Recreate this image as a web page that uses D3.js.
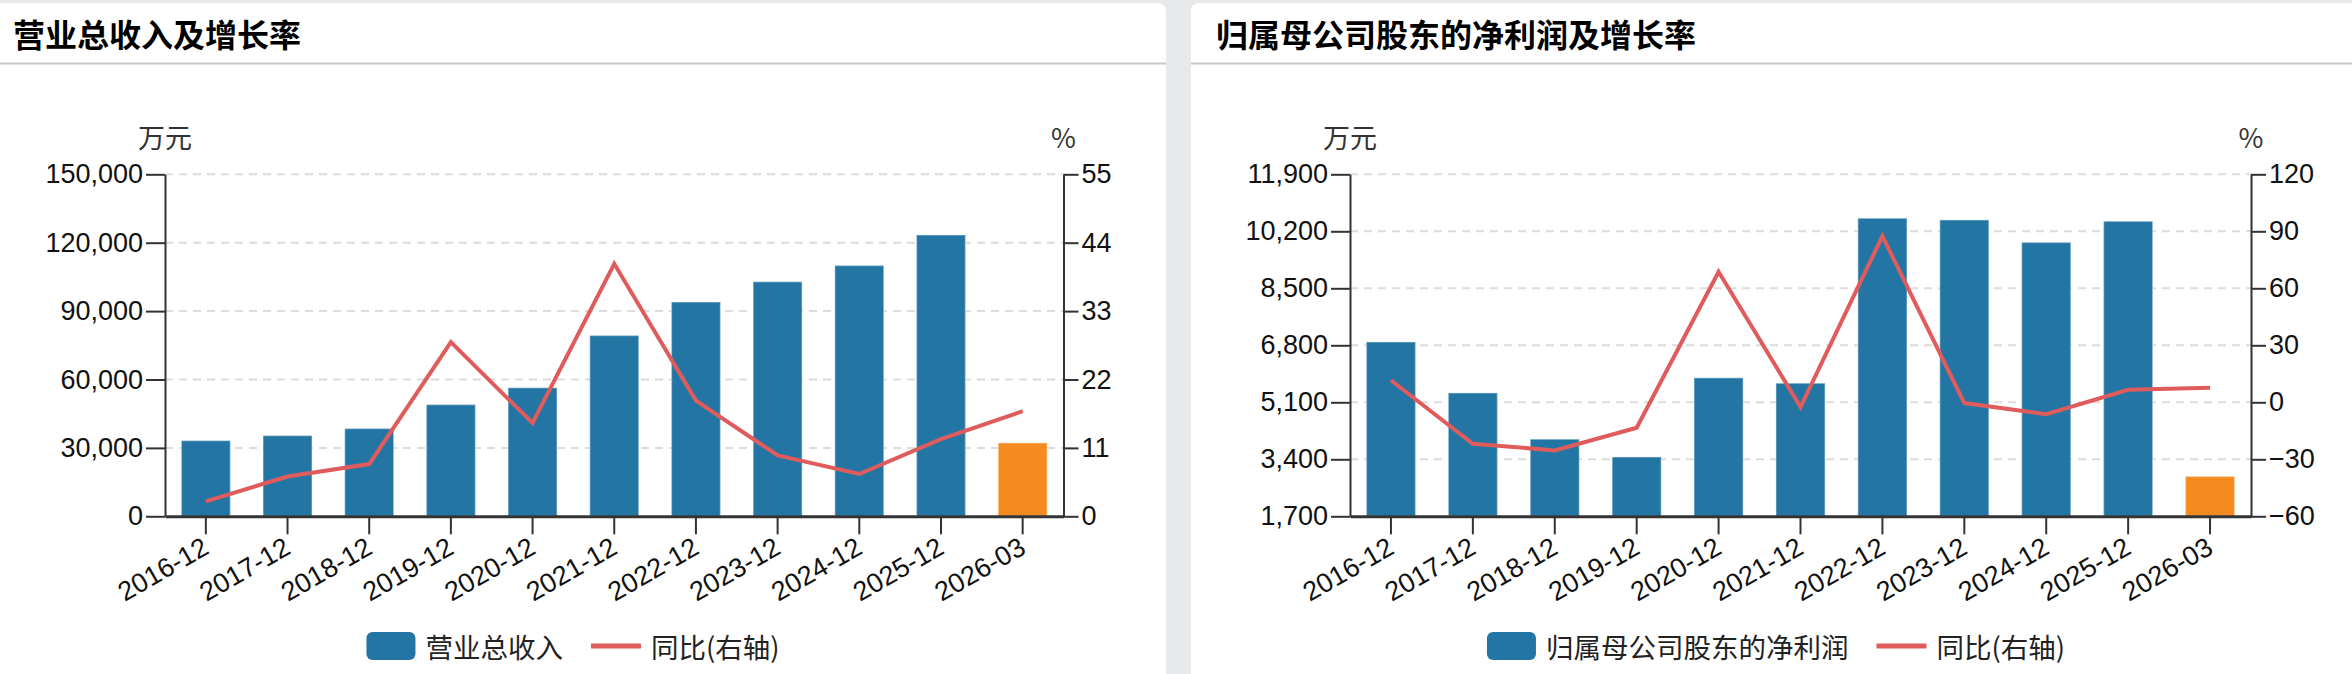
<!DOCTYPE html>
<html>
<head>
<meta charset="utf-8">
<script src="https://cdn.jsdelivr.net/npm/d3@7"></script>
<style>
  body { margin: 0; background: #e8e9eb; }
  svg { display: block; }
</style>
</head>
<body>
<svg id="svg" width="2352" height="674"></svg>
<script>
// data
var categories = ["2016-12", "2017-12", "2018-12", "2019-12", "2020-12", "2021-12", "2022-12", "2023-12", "2024-12", "2025-12", "2026-03"];

var revenue = [33200, 35400, 38500, 49000, 56400, 79300, 94000, 102900, 110000, 123400, 32200];
var revenueYoy = [2.4, 6.4, 8.4, 28.0, 15.0, 40.6, 18.6, 9.8, 6.8, 12.4, 16.9];
var revenueTicks = [0, 30000, 60000, 90000, 120000, 150000];
var revenueYoyTicks = [0, 11, 22, 33, 44, 55];

var profit = [6900, 5380, 4000, 3470, 5830, 5670, 10590, 10540, 9870, 10500, 2890];
var profitYoy = [11.6, -21.8, -25.3, -13.4, 68.7, -2.5, 87.5, -0.4, -6.3, 6.6, 7.7];
var profitTicks = [1700, 3400, 5100, 6800, 8500, 10200, 11900];
var profitYoyTicks = [-60, -30, 0, 30, 60, 90, 120];

var blue = "#2376a3";
var orange = "#f58a1e";
var red = "#e05c5c";
var numFont = "'Liberation Sans', Arial, sans-serif";
var cjkFont = "'Noto Sans CJK SC', sans-serif";

const svg = d3.select('#svg');

var plotTop = 174.3;
var plotBottom = 516.3;

var charts = [
  {title: "营业总收入及增长率", barName: "营业总收入", bars: revenue, yoy: revenueYoy,
   leftTicks: revenueTicks, rightTicks: revenueYoyTicks,
   cardX: -12, cardW: 1178, plotL: 165, plotR: 1063.5, legendCx: 573},
  {title: "归属母公司股东的净利润及增长率", barName: "归属母公司股东的净利润", bars: profit, yoy: profitYoy,
   leftTicks: profitTicks, rightTicks: profitYoyTicks,
   cardX: 1191, cardW: 1178, plotL: 1350, plotR: 2251, legendCx: 1776}
];

charts.forEach(drawChart);

function styleAxis(g, width) {
  g.select(".domain").attr("stroke", "#333").attr("stroke-width", width);
  g.selectAll(".tick line").attr("stroke", "#333").attr("stroke-width", 2);
  g.selectAll(".tick text")
    .style("font-family", numFont)
    .style("font-size", "27px")
    .attr("fill", "#111");
}

function drawChart(cfg) {
  var g = svg.append("g");

  // card + header
  g.append("rect")
    .attr("x", cfg.cardX).attr("y", 3)
    .attr("width", cfg.cardW).attr("height", 720)
    .attr("rx", 8)
    .attr("fill", "#fff");
  g.append("rect")
    .attr("x", cfg.cardX).attr("y", 62.5)
    .attr("width", cfg.cardW).attr("height", 2)
    .attr("fill", "#c8c8cc");
  g.append("text")
    .attr("x", cfg.cardX + 25)
    .attr("y", 33)
    .attr("dominant-baseline", "central")
    .style("font-family", cjkFont)
    .style("font-size", "32px")
    .style("font-weight", "bold")
    .attr("fill", "#000")
    .text(cfg.title);

  var x = d3.scaleBand().domain(categories).range([cfg.plotL, cfg.plotR]);
  var lt = cfg.leftTicks, rt = cfg.rightTicks;
  var yL = d3.scaleLinear().domain([lt[0], lt[lt.length - 1]]).range([plotBottom, plotTop]);
  var yR = d3.scaleLinear().domain([rt[0], rt[rt.length - 1]]).range([plotBottom, plotTop]);

  // dashed grid
  g.selectAll(".grid")
    .data(lt.slice(1))
    .join("line")
    .attr("x1", cfg.plotL).attr("x2", cfg.plotR)
    .attr("y1", d => yL(d)).attr("y2", d => yL(d))
    .attr("stroke", "#dcdcdc")
    .attr("stroke-width", 2)
    .attr("stroke-dasharray", "8,6");

  // bars
  var bw = x.bandwidth() * 0.6;
  g.selectAll(".bar")
    .data(cfg.bars)
    .join("rect")
    .attr("x", (d, i) => x(categories[i]) + (x.bandwidth() - bw) / 2)
    .attr("width", bw)
    .attr("y", d => yL(d))
    .attr("height", d => yL(lt[0]) - yL(d))
    .attr("fill", (d, i) => i === categories.length - 1 ? orange : blue)
    .attr("stroke", "rgba(255,255,255,0.35)")
    .attr("stroke-width", 1.5);

  // yoy line
  var line = d3.line()
    .x((d, i) => x(categories[i]) + x.bandwidth() / 2)
    .y(d => yR(d));
  g.append("path")
    .datum(cfg.yoy)
    .attr("d", line)
    .attr("fill", "none")
    .attr("stroke", red)
    .attr("stroke-width", 4);

  // axes
  var left = g.append("g")
    .attr("transform", "translate(" + cfg.plotL + ",0)")
    .call(d3.axisLeft(yL).tickValues(lt).tickFormat(d3.format(",")).tickSize(19).tickSizeOuter(0).tickPadding(3));
  styleAxis(left, 2);

  var right = g.append("g")
    .attr("transform", "translate(" + cfg.plotR + ",0)")
    .call(d3.axisRight(yR).tickValues(rt).tickSize(15).tickSizeOuter(0).tickPadding(3));
  styleAxis(right, 2);

  var bottom = g.append("g")
    .attr("transform", "translate(0," + plotBottom + ")")
    .call(d3.axisBottom(x).tickSize(18).tickSizeOuter(0));
  styleAxis(bottom, 3);
  bottom.selectAll(".tick text")
    .attr("y", null)
    .attr("dy", "0.35em")
    .attr("text-anchor", "end")
    .attr("transform", "translate(0,28) rotate(-30)");

  // units
  g.append("text")
    .attr("x", cfg.plotL).attr("y", 136)
    .attr("text-anchor", "middle")
    .attr("dominant-baseline", "central")
    .style("font-family", cjkFont).style("font-size", "27px")
    .attr("fill", "#333")
    .text("万元");
  g.append("text")
    .attr("x", cfg.plotR).attr("y", 136)
    .attr("text-anchor", "middle")
    .attr("dominant-baseline", "central")
    .style("font-family", cjkFont).style("font-size", "27px")
    .attr("fill", "#333")
    .text("%");

  // legend
  var lg = g.append("g");
  lg.append("rect")
    .attr("x", 0).attr("y", -14)
    .attr("width", 49).attr("height", 28)
    .attr("rx", 6)
    .attr("fill", blue);
  var t1 = lg.append("text")
    .attr("x", 59).attr("y", 0)
    .attr("dominant-baseline", "central")
    .style("font-family", cjkFont).style("font-size", "27.5px")
    .attr("fill", "#222")
    .text(cfg.barName);
  var lx = 59 + t1.node().getComputedTextLength() + 28;
  lg.append("line")
    .attr("x1", lx).attr("x2", lx + 50)
    .attr("y1", 0).attr("y2", 0)
    .attr("stroke", red)
    .attr("stroke-width", 5);
  var t2 = lg.append("text")
    .attr("x", lx + 60).attr("y", 0)
    .attr("dominant-baseline", "central")
    .style("font-family", cjkFont).style("font-size", "27.5px")
    .attr("fill", "#222")
    .text("同比(右轴)");
  var total = lx + 60 + t2.node().getComputedTextLength();
  lg.attr("transform", "translate(" + (cfg.legendCx - total / 2) + ",646)");
}
</script>
</body>
</html>
